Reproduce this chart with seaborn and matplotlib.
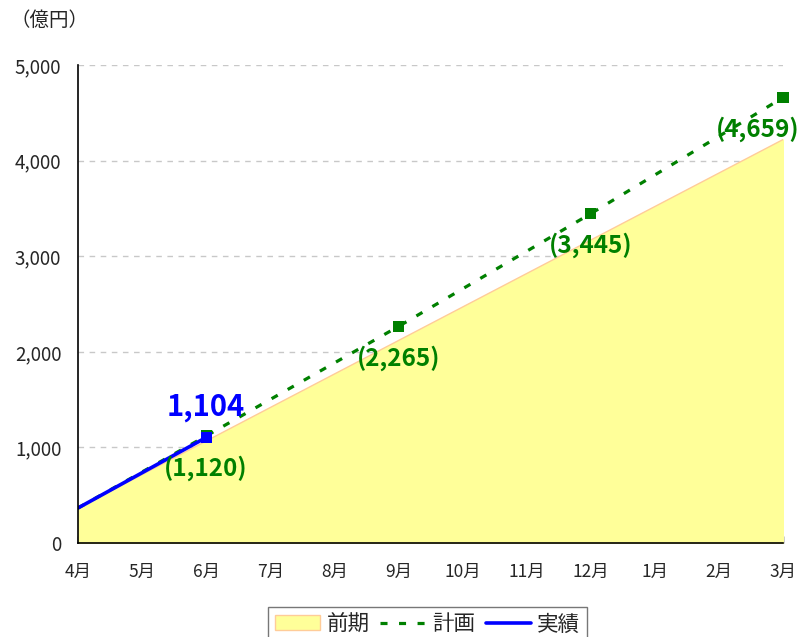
"""Cumulative plan vs. actual chart (億円), fiscal year April to March."""

import matplotlib.pyplot as plt
import pandas as pd
import seaborn as sns
from matplotlib.lines import Line2D
from matplotlib.patches import Patch

months = ["4月", "5月", "6月", "7月", "8月", "9月", "10月", "11月", "12月", "1月", "2月", "3月"]

prev_months = ["4月", "3月"]
prev_values = [366, 4220]

plan_months = ["4月", "6月", "9月", "12月", "3月"]
plan_values = [366, 1120, 2265, 3445, 4659]

actual_months = ["4月", "5月", "6月"]
actual_values = [366, 735, 1104]

plan_labels = ["(1,120)", "(2,265)", "(3,445)", "(4,659)"]
actual_label = "1,104"

yticks = [0, 1000, 2000, 3000, 4000, 5000]

GREEN = "#008000"
BLUE = "#0000FF"
YELLOW = "#FFFF99"
PEACH = "#FFCC99"


def to_frame(labels, values):
    return pd.DataFrame({"x": [months.index(m) for m in labels], "y": values})


sns.set_theme(style="white")
plt.rcParams["font.family"] = ["Noto Sans CJK JP", "DejaVu Sans"]

fig = plt.figure(figsize=(8.05, 6.37), dpi=100)
ax = fig.add_axes([78 / 805, 94 / 637, 705 / 805, 478 / 637])

prev = to_frame(prev_months, prev_values)
plan = to_frame(plan_months, plan_values)
actual = to_frame(actual_months, actual_values)

ax.fill_between(prev["x"], 0, prev["y"], color=YELLOW, zorder=1)
ax.plot(prev["x"], prev["y"], color=PEACH, lw=1, zorder=1.5)

sns.lineplot(data=plan, x="x", y="y", ax=ax, color=GREEN, lw=2.3,
             dashes=False, zorder=3)
ax.lines[-1].set_dashes((2.2, 3.6))
sns.scatterplot(data=plan.iloc[1:], x="x", y="y", ax=ax, color=GREEN,
                marker="s", s=65, edgecolor="none", zorder=4, clip_on=False)

sns.lineplot(data=actual, x="x", y="y", ax=ax, color=BLUE, lw=2.6, zorder=5)
sns.scatterplot(data=actual.iloc[[-1]], x="x", y="y", ax=ax, color=BLUE,
                marker="s", s=65, edgecolor="none", zorder=6, clip_on=False)

for (x, y), text in zip(plan.iloc[1:].values, plan_labels):
    dx = -18 if x == len(months) - 1 else 0
    ax.annotate(text, (x, y), xytext=(dx, -23), textcoords="offset points",
                ha="center", va="center", color=GREEN, fontsize=17.5,
                fontweight="bold", zorder=7, annotation_clip=False)

ax.annotate(actual_label, (actual["x"].iloc[-1], actual["y"].iloc[-1]),
            xytext=(0, 22), textcoords="offset points", ha="center",
            va="center", color=BLUE, fontsize=21, fontweight="bold", zorder=7)

ax.set_xlim(0, len(months) - 1)
ax.set_ylim(0, 5000)
ax.set_xticks(range(len(months)))
ax.set_xticklabels(months, fontsize=12.5)
ax.set_yticks(yticks)
ax.set_yticklabels([f"{v:,}" for v in yticks], fontsize=13.5)
ax.tick_params(axis="x", direction="in", length=5, width=1, color="black",
               pad=14, bottom=True)
ax.tick_params(axis="y", length=0, pad=12)
ax.set_xlabel("")
ax.set_ylabel("")

ax.yaxis.grid(True, color="#c8c8c8", lw=1, linestyle=(0, (4, 4)))
ax.set_axisbelow(True)
for side in ["top", "right"]:
    ax.spines[side].set_visible(False)
for side in ["left", "bottom"]:
    ax.spines[side].set_color("black")
    ax.spines[side].set_linewidth(1.2)
    ax.spines[side].set_zorder(8)

fig.text(10 / 805, 1 - 20 / 637, "（億円）", fontsize=14, va="center", ha="left")

handles = [
    Patch(facecolor=YELLOW, edgecolor=PEACH, lw=1),
    Line2D([], [], color=GREEN, lw=2.3, dashes=(2.2, 3.6)),
    Line2D([], [], color=BLUE, lw=2.6),
]
leg = fig.legend(handles, ["前期", "計画", "実績"], loc="upper center",
                 bbox_to_anchor=(427.5 / 805, 1 - 607 / 637), ncol=3,
                 fontsize=15.5, frameon=True, fancybox=False, handlelength=2.1,
                 handletextpad=0.3, columnspacing=0.5, borderpad=0.3,
                 borderaxespad=0)
leg.get_frame().set_edgecolor("#555555")
leg.get_frame().set_linewidth(1)

fig.savefig("out.png", dpi=100)
